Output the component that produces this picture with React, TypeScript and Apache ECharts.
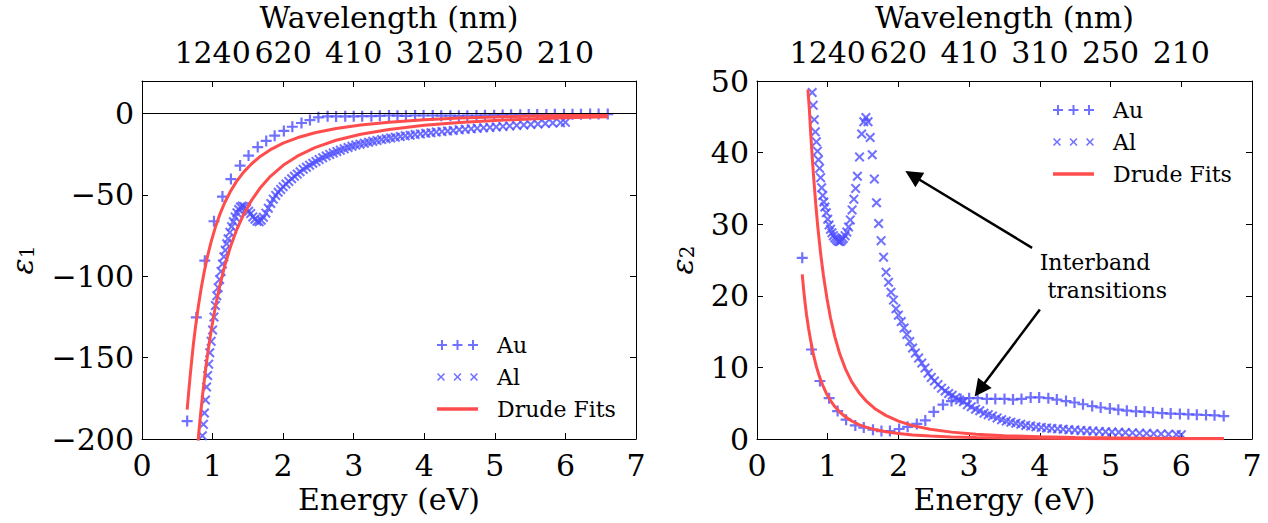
import React, { useEffect, useRef } from 'react';
import * as echarts from 'echarts';

// ---------- tick labels ----------
const wavelengthTickEnergies = [1, 2, 3, 4, 5, 6];
const wavelengthLabels = ['1240', '620', '410', '310', '250', '210'];

// ---------- Au measured data (energy eV) ----------
const auEnergy = [0.64, 0.77, 0.89, 1.02, 1.14, 1.26, 1.39, 1.51, 1.64, 1.76, 1.88, 2.01, 2.13, 2.26, 2.38, 2.5, 2.63, 2.75, 2.88, 3.0, 3.12, 3.25, 3.37, 3.5, 3.62, 3.74, 3.87, 3.99, 4.12, 4.24, 4.37, 4.49, 4.61, 4.74, 4.86, 4.99, 5.11, 5.23, 5.36, 5.48, 5.6, 5.73, 5.85, 5.98, 6.1, 6.22, 6.35, 6.47, 6.6];
const auEps1 = [-189.0, -125.3, -90.4, -66.2, -51.0, -40.3, -32.0, -25.8, -20.6, -16.8, -13.6, -10.7, -8.1, -5.8, -4.0, -2.3, -1.7, -1.8, -1.7, -1.7, -1.6, -1.6, -1.4, -1.2, -1.3, -1.4, -1.2, -1.2, -1.2, -1.3, -1.3, -1.4, -1.3, -1.2, -1.1, -1.0, -0.85, -0.7, -0.7, -0.6, -0.6, -0.55, -0.5, -0.5, -0.45, -0.4, -0.35, -0.3, -0.3];
const auEps2 = [25.3, 12.5, 8.1, 5.7, 3.9, 2.7, 1.9, 1.6, 1.3, 1.1, 1.1, 1.4, 1.7, 2.1, 2.6, 3.8, 4.8, 5.3, 5.6, 5.7, 5.7, 5.6, 5.6, 5.6, 5.5, 5.6, 5.8, 5.8, 5.7, 5.5, 5.3, 5.1, 4.85, 4.6, 4.4, 4.25, 4.1, 3.95, 3.85, 3.8, 3.7, 3.6, 3.55, 3.5, 3.45, 3.4, 3.35, 3.3, 3.2];

// ---------- Al measured data ----------
const alEnergy = [0.78, 0.795, 0.81, 0.825, 0.84, 0.855, 0.87, 0.885, 0.9, 0.915, 0.93, 0.945, 0.96, 0.98, 1.0, 1.02, 1.04, 1.06, 1.08, 1.1, 1.12, 1.14, 1.16, 1.18, 1.2, 1.22, 1.245, 1.27, 1.295, 1.32, 1.345, 1.37, 1.395, 1.42, 1.45, 1.48, 1.51, 1.54, 1.57, 1.6, 1.63, 1.66, 1.69, 1.72, 1.755, 1.79, 1.825, 1.86, 1.895, 1.93, 1.965, 2.0, 2.04, 2.08, 2.12, 2.16, 2.2, 2.24, 2.285, 2.33, 2.375, 2.42, 2.465, 2.51, 2.56, 2.61, 2.66, 2.71, 2.76, 2.81, 2.865, 2.92, 2.975, 3.03, 3.09, 3.15, 3.21, 3.27, 3.33, 3.395, 3.46, 3.525, 3.59, 3.66, 3.73, 3.8, 3.87, 3.945, 4.02, 4.095, 4.17, 4.25, 4.33, 4.41, 4.495, 4.58, 4.665, 4.75, 4.84, 4.93, 5.02, 5.115, 5.21, 5.31, 5.41, 5.51, 5.61, 5.715, 5.82, 5.93, 6.0];
const alEps1 = [null, null, null, null, null, -198, -191, -184, -176, -168, -161, -154, -147, -140, -133, -125, -118, -112, -107, -102, -97, -92.5, -88, -84, -80, -77, -73, -69.5, -66.5, -63.5, -61, -59, -57.5, -56.8, -57.2, -58.5, -60, -61.5, -63.5, -65, -66.2, -66.5, -65.5, -63.8, -61.2, -58.2, -55.3, -52.6, -50.3, -48.4, -46.6, -45, -43.3, -41.7, -40.1, -38.6, -37.2, -35.8, -34.3, -33, -31.7, -30.5, -29.4, -28.3, -27.2, -26.1, -25.1, -24.2, -23.3, -22.5, -21.7, -20.9, -20.1, -19.4, -18.8, -18.2, -17.6, -17.0, -16.5, -16.0, -15.5, -15.0, -14.6, -14.1, -13.7, -13.3, -12.9, -12.5, -12.1, -11.8, -11.4, -11.1, -10.7, -10.4, -10.0, -9.7, -9.4, -9.1, -8.8, -8.5, -8.2, -7.9, -7.6, -7.3, -7.0, -6.7, -6.4, -6.1, -5.8, -5.6, -5.4];
const alEps2 = [48.4, 46.6, 44.6, 42.9, 41.5, 40.2, 39.0, 37.8, 36.5, 35.1, 34.0, 33.1, 32.4, 31.6, 30.7, 29.9, 29.3, 28.8, 28.4, 28.1, 27.9, 27.7, 27.6, 27.6, 27.8, 28.0, 28.4, 28.9, 29.6, 30.6, 32.0, 33.5, 35.0, 36.7, 39.4, 42.6, 44.3, 44.9, 44.3, 42.1, 39.7, 36.3, 33.0, 30.1, 27.7, 25.4, 23.3, 21.9, 20.5, 19.4, 18.2, 17.3, 16.4, 15.5, 14.6, 13.6, 12.7, 12.0, 11.3, 10.6, 9.9, 9.2, 8.6, 8.1, 7.6, 7.1, 6.7, 6.35, 6.1, 5.75, 5.45, 5.2, 4.8, 4.5, 4.15, 3.95, 3.6, 3.4, 3.2, 2.95, 2.7, 2.5, 2.35, 2.2, 2.05, 1.9, 1.8, 1.7, 1.62, 1.55, 1.48, 1.42, 1.36, 1.3, 1.25, 1.2, 1.15, 1.1, 1.06, 1.02, 0.98, 0.94, 0.9, 0.86, 0.82, 0.79, 0.75, 0.71, 0.67, 0.63, 0.6];

// ---------- Drude fits ----------
const auFitEnergy = [0.64, 0.66, 0.68, 0.7, 0.73, 0.76, 0.8, 0.84, 0.88, 0.93, 0.98, 1.04, 1.1, 1.17, 1.25, 1.34, 1.44, 1.55, 1.68, 1.82, 2.0, 2.2, 2.45, 2.75, 3.1, 3.5, 4.0, 4.5, 5.0, 5.5, 6.0, 6.6];
const auFitEps1 = [-182, -172, -162.5, -153.5, -141, -130.5, -118, -107, -97.6, -87.4, -78.7, -69.8, -62.3, -55, -48.1, -41.7, -36, -31, -26.2, -22.2, -18.2, -14.9, -11.8, -9.2, -7, -5.3, -3.8, -2.8, -2.1, -1.55, -1.14, -0.77];
const auFitEps2 = [23.0, 20.8, 19.0, 17.4, 15.4, 13.7, 11.7, 10.1, 8.8, 7.5, 6.4, 5.36, 4.53, 3.77, 3.09, 2.51, 2.02, 1.62, 1.28, 1.0, 0.76, 0.57, 0.41, 0.29, 0.2, 0.14, 0.095, 0.067, 0.048, 0.036, 0.028, 0.021];

const alFitEnergy = [0.72, 0.74, 0.76, 0.78, 0.8, 0.83, 0.86, 0.9, 0.94, 0.99, 1.04, 1.1, 1.17, 1.25, 1.34, 1.44, 1.55, 1.68, 1.82, 2.0, 2.2, 2.45, 2.75, 3.1, 3.5, 4.0, 4.5, 5.0, 5.5, 6.0, 6.6];
const alFitEps1 = [-243, -231, -219, -208.5, -198.5, -184.8, -172.4, -157.7, -144.8, -130.8, -118.7, -106.2, -93.9, -82.3, -71.6, -62, -53.5, -45.4, -38.6, -31.8, -26.2, -20.9, -16.4, -12.7, -9.76, -7.24, -5.51, -4.28, -3.36, -2.66, -2.03];
const alFitEps2 = [48.8, 46.1, 42.6, 39.5, 36.7, 32.9, 29.6, 25.9, 22.8, 19.6, 16.9, 14.3, 11.9, 9.8, 7.97, 6.5, 5.25, 4.15, 3.3, 2.5, 1.87, 1.35, 0.96, 0.67, 0.46, 0.31, 0.22, 0.16, 0.12, 0.09, 0.07];

// ---------- annotation anchors (data coords) ----------
const arrowUpper = [[3.89, 26.7], [2.2, 36.8]];
const arrowLower = [[4.0, 18.1], [3.15, 6.9]];
const annotationText = [
  { name: 'Interband', coord: [3.99, 24.6] },
  { name: 'transitions', coord: [4.1, 20.8] },
];

// ---------- styling ----------
const FONT = 'DejaVu Serif';
const BLUE = '#4d4dff';
const RED = '#ff4d4d';

function plus(x: number, s: number, t: number) {
  const a = (s - t) / 2;
  return `M${x + a},0H${x + a + t}V${a}H${x + s}V${a + t}H${x + a + t}V${s}H${x + a}V${a + t}H${x}V${a}H${x + a}Z`;
}
function cross(x: number, s: number, d: number) {
  const h = s / 2;
  return `M${x},${d}L${x + d},0L${x + h},${h - d}L${x + s - d},0L${x + s},${d}L${x + h + d},${h}L${x + s},${s - d}L${x + s - d},${s}L${x + h},${h + d}L${x + d},${s}L${x},${s - d}L${x + h - d},${h}Z`;
}
const PLUS = 'path://' + plus(0, 10, 2);
const CROSS = 'path://' + cross(0, 10, 1.45);
const PLUS3 = 'path://' + [0, 15.5, 31].map((x) => plus(x, 10, 2)).join(' ');
const CROSS3 = 'path://' + [0, 16.5, 33].map((x) => cross(x, 8, 1.1)).join(' ');
const LINE_ICON = 'path://M0,0H34V3H0Z';

const pts = (xs: number[], ys: (number | null)[]) =>
  xs.map((x, i) => [x, ys[i]]).filter((p) => p[1] !== null);

const labelStyle = { color: '#000', fontFamily: FONT, fontSize: 30 };
const axisLine = { show: true, onZero: false, lineStyle: { color: '#000', width: 1 } };
const axisTick = { show: true, inside: true, length: 6, lineStyle: { color: '#000', width: 1 } };
const minusFmt = (v: number) => (v < 0 ? '\u2212' + Math.abs(v) : String(v));

function bottomX(gridIndex: number) {
  return {
    type: 'value', gridIndex, position: 'bottom', min: 0, max: 7, interval: 1,
    name: 'Energy (eV)', nameLocation: 'middle', nameGap: 44,
    nameTextStyle: { ...labelStyle },
    axisLine, axisTick, splitLine: { show: false },
    axisLabel: { ...labelStyle, margin: 11 },
  };
}
function topX(gridIndex: number) {
  return {
    type: 'value', gridIndex, position: 'top', min: 0, max: 7, interval: 1,
    name: 'Wavelength (nm)', nameLocation: 'middle', nameGap: 46,
    nameTextStyle: { ...labelStyle },
    axisLine, axisTick, splitLine: { show: false },
    axisLabel: {
      ...labelStyle, margin: 14,
      formatter: (v: number) => {
        const i = wavelengthTickEnergies.indexOf(v);
        return i >= 0 ? wavelengthLabels[i] : '';
      },
    },
  };
}
function leftY(gridIndex: number, min: number, max: number, interval: number, sub: string, gap: number) {
  return {
    type: 'value', gridIndex, position: 'left', min, max, interval,
    name: `{e|\u03b5}{s|${sub}}`, nameLocation: 'middle', nameGap: gap, nameRotate: 90,
    nameTextStyle: {
      rich: {
        e: { fontFamily: FONT, fontSize: 30, fontStyle: 'italic', color: '#000' },
        s: { fontFamily: FONT, fontSize: 20, color: '#000', padding: [10, 0, 0, 0] },
      },
    },
    axisLine, axisTick, splitLine: { show: false },
    axisLabel: {
      ...labelStyle, margin: 8, showMaxLabel: max % interval === 0,
      formatter: (v: number) => (v > max - 1e-9 && max % interval !== 0 ? '' : minusFmt(v)),
    },
  };
}
function rightY(gridIndex: number, min: number, max: number, interval: number) {
  return {
    type: 'value', gridIndex, position: 'right', min, max, interval,
    axisLine, axisTick, splitLine: { show: false }, axisLabel: { show: false },
  };
}

function legendFor(left: number, top: number) {
  return {
    left, top, orient: 'vertical', itemGap: 8, itemWidth: 41, itemHeight: 12,
    symbolKeepAspect: true, selectedMode: false,
    textStyle: { fontFamily: FONT, fontSize: 22, color: '#000', padding: [0, 0, 0, 14], lineHeight: 24 },
    data: [{ name: 'Au', icon: PLUS3 }, { name: 'Al', icon: CROSS3 }, { name: 'Drude Fits', icon: LINE_ICON }],
  };
}

function scatter(name: string, data: any[], xi: number, yi: number, extra: any = {}) {
  const isAu = name === 'Au';
  return {
    type: 'scatter', name, xAxisIndex: xi, yAxisIndex: yi, data,
    symbol: isAu ? PLUS : CROSS, symbolSize: isAu ? 11 : 10,
    itemStyle: { color: BLUE }, clip: true, ...extra,
  };
}
function fit(data: any[], xi: number, yi: number) {
  return {
    type: 'line', name: 'Drude Fits', xAxisIndex: xi, yAxisIndex: yi, data,
    symbol: 'none', showSymbol: false, smooth: false, clip: true,
    lineStyle: { color: RED, width: 3 }, itemStyle: { color: RED },
  };
}

export default function App() {
  const ref = useRef<HTMLDivElement>(null);
  useEffect(() => {
    if (!ref.current) return;
    const chart = echarts.init(ref.current, undefined, { renderer: 'svg' });
    const option: any = {
      animation: false,
      backgroundColor: '#fff',
      grid: [
        { left: 142, top: 81, width: 494, height: 358, containLabel: false, outerBoundsMode: 'none' },
        { left: 757, top: 81, width: 495, height: 358, containLabel: false, outerBoundsMode: 'none' },
      ],
      xAxis: [bottomX(0), topX(0), bottomX(1), topX(1)],
      yAxis: [
        leftY(0, -200, 20, 50, '1', 105),
        rightY(0, -200, 20, 50),
        leftY(1, 0, 50, 10, '2', 60),
        rightY(1, 0, 50, 10),
      ],
      legend: [legendFor(432, 328), legendFor(1048, 93)],
      series: [
        scatter('Au', pts(auEnergy, auEps1), 0, 0, {
          markLine: {
            silent: true, symbol: 'none', animation: false,
            label: { show: false },
            lineStyle: { color: '#000', width: 1, type: 'solid' },
            data: [{ yAxis: 0 }],
          },
        }),
        scatter('Al', pts(alEnergy, alEps1), 0, 0),
        fit(pts(auFitEnergy, auFitEps1), 0, 0),
        fit(pts(alFitEnergy, alFitEps1), 0, 0),
        scatter('Au', pts(auEnergy, auEps2), 2, 2, {
          markPoint: {
            silent: true, symbol: 'rect', symbolSize: 1, animation: false,
            itemStyle: { color: 'rgba(0,0,0,0)' },
            label: { show: true, position: 'right', distance: 0, color: '#000', fontFamily: FONT, fontSize: 22, formatter: '{b}' },
            data: annotationText.map((a) => ({ name: a.name, coord: a.coord })),
          },
        }),
        scatter('Al', pts(alEnergy, alEps2), 2, 2),
        fit(pts(auFitEnergy, auFitEps2), 2, 2),
        {
          ...fit(pts(alFitEnergy, alFitEps2), 2, 2),
          markLine: {
            silent: true, symbol: ['none', 'triangle'], symbolSize: 17, animation: false,
            label: { show: false },
            lineStyle: { color: '#000', width: 2.5, type: 'solid' },
            itemStyle: { color: '#000' },
            data: [
              [{ coord: arrowUpper[0] }, { coord: arrowUpper[1] }],
              [{ coord: arrowLower[0] }, { coord: arrowLower[1] }],
            ],
          },
        },
      ],
    };
    chart.setOption(option);
    return () => chart.dispose();
  }, []);
  return <div ref={ref} style={{ position: 'fixed', left: 0, top: 0, width: 1268, height: 523, background: '#fff' }} />;
}
